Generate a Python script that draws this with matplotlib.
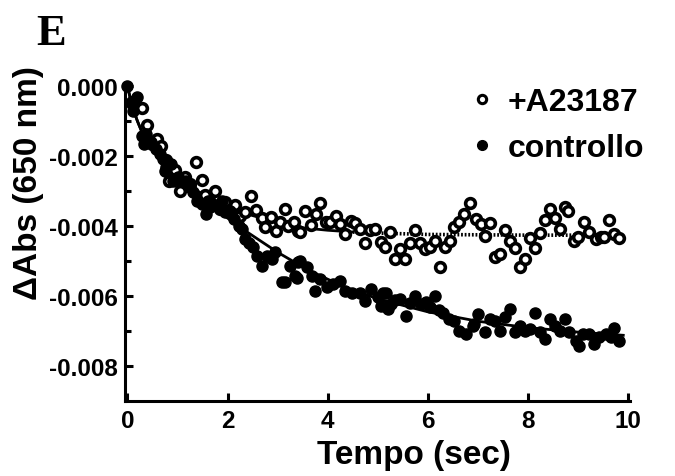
import matplotlib
matplotlib.use("Agg")
import matplotlib.pyplot as plt
from matplotlib.lines import Line2D

# +A23187 (open circles)
a23_t = [0.1, 0.2, 0.29, 0.4, 0.5, 0.6, 0.68, 0.78, 0.84, 0.95, 1.05, 1.15, 1.25, 1.36,
         1.48, 1.55, 1.65, 1.75, 1.85, 1.95, 2.05, 2.15, 2.25, 2.35, 2.46, 2.56, 2.68,
         2.75, 2.87, 2.96, 3.05, 3.15, 3.21, 3.33, 3.41, 3.45, 3.55, 3.66, 3.76, 3.84,
         3.96, 4.04, 4.16, 4.24, 4.34, 4.46, 4.54, 4.65, 4.74, 4.84, 4.95, 5.06, 5.15,
         5.24, 5.34, 5.44, 5.54, 5.64, 5.75, 5.84, 5.94, 6.04, 6.15, 6.25, 6.35, 6.45,
         6.52, 6.63, 6.73, 6.85, 6.95, 7.05, 7.14, 7.23, 7.34, 7.43, 7.53, 7.63, 7.73,
         7.83, 7.93, 8.03, 8.13, 8.24, 8.33, 8.43, 8.53, 8.63, 8.73, 8.8, 8.91, 8.99,
         9.12, 9.22, 9.36, 9.45, 9.52, 9.62, 9.72, 9.82]
a23_y = [-0.00045, -0.0006, -0.00064, -0.0011, -0.00166, -0.0015, -0.0017, -0.0021,
         -0.0027, -0.0024, -0.0030, -0.0026, -0.0028, -0.00218, -0.00269, -0.0031,
         -0.0033, -0.0030, -0.0035, -0.0033, -0.0036, -0.0034, -0.0037, -0.0036,
         -0.00313, -0.00354, -0.00377, -0.00404, -0.00373, -0.00413, -0.00389, -0.00351,
         -0.00399, -0.00389, -0.00413, -0.00416, -0.00358, -0.00397, -0.00366, -0.00335,
         -0.00387, -0.00387, -0.00372, -0.00394, -0.00423, -0.00385, -0.00392, -0.00407,
         -0.00449, -0.00411, -0.00409, -0.00445, -0.00461, -0.00416, -0.00494, -0.00466,
         -0.00494, -0.00447, -0.0041, -0.00447, -0.00466, -0.00461, -0.00442, -0.00518,
         -0.00461, -0.00442, -0.00404, -0.00389, -0.00366, -0.00334, -0.0038, -0.00394,
         -0.00428, -0.00391, -0.00489, -0.0048, -0.0041, -0.00444, -0.00463, -0.00518,
         -0.00494, -0.00435, -0.00464, -0.00421, -0.00383, -0.0035, -0.00378, -0.00407,
         -0.00347, -0.00356, -0.00442, -0.0043, -0.00388, -0.00418, -0.00437, -0.0043,
         -0.00432, -0.00383, -0.00423, -0.00435]

# controllo (filled circles)
ctl_t = [0.0, 0.09, 0.12, 0.19, 0.29, 0.34, 0.38, 0.48, 0.58, 0.65, 0.72, 0.75, 0.78,
         0.82, 0.88, 0.92, 1.02, 1.1, 1.18, 1.25, 1.31, 1.38, 1.48, 1.56, 1.6, 1.65,
         1.75, 1.82, 1.88, 1.95, 2.05, 2.12, 2.22, 2.28, 2.35, 2.42, 2.5, 2.58, 2.68,
         2.78, 2.88, 2.95, 3.08, 3.15, 3.25, 3.35, 3.38, 3.41, 3.45, 3.58, 3.68, 3.75,
         3.84, 3.98, 4.11, 4.24, 4.34, 4.48, 4.64, 4.74, 4.86, 5.01, 5.07, 5.1, 5.17,
         5.2, 5.27, 5.35, 5.44, 5.57, 5.65, 5.74, 5.87, 5.97, 6.05, 6.14, 6.22, 6.3,
         6.43, 6.53, 6.63, 6.77, 6.9, 6.93, 7.0, 7.13, 7.23, 7.33, 7.43, 7.53, 7.63,
         7.73, 7.83, 7.93, 8.03, 8.13, 8.23, 8.33, 8.43, 8.53, 8.63, 8.73, 8.82, 8.96,
         9.02, 9.09, 9.22, 9.32, 9.42, 9.56, 9.65, 9.72, 9.82]
ctl_y = [0.0, -0.00051, -0.0007, -0.00032, -0.00142, -0.00166, -0.00137, -0.00161,
         -0.0018, -0.00194, -0.00209, -0.00242, -0.0023, -0.00223, -0.00223, -0.0027,
         -0.00261, -0.0027, -0.0027, -0.00289, -0.00304, -0.00328, -0.00337, -0.00366,
         -0.00328, -0.00346, -0.0034, -0.00347, -0.00328, -0.0036, -0.00356, -0.0038,
         -0.00399, -0.00409, -0.00437, -0.00447, -0.0046, -0.00485, -0.00513, -0.00485,
         -0.00494, -0.00475, -0.00561, -0.0056, -0.00513, -0.00542, -0.00547, -0.00504,
         -0.00499, -0.00518, -0.00542, -0.00585, -0.00551, -0.00575, -0.00566, -0.00556,
         -0.00585, -0.00591, -0.0059, -0.00613, -0.0058, -0.00604, -0.00628, -0.00591,
         -0.0059, -0.00637, -0.00623, -0.0061, -0.00609, -0.00656, -0.0062, -0.00599,
         -0.00623, -0.00618, -0.0063, -0.00599, -0.0064, -0.00647, -0.00666, -0.0067,
         -0.00699, -0.00709, -0.00685, -0.0068, -0.00651, -0.00704, -0.00666, -0.0067,
         -0.00699, -0.00661, -0.00637, -0.00704, -0.00685, -0.00699, -0.00694, -0.00647,
         -0.00704, -0.00723, -0.00666, -0.00685, -0.00699, -0.00666, -0.00704, -0.00728,
         -0.00742, -0.00709, -0.00709, -0.00737, -0.00718, -0.00709, -0.00718, -0.00692,
         -0.00728]

# fitted curves
fit_ctl_t = [0, 0.1, 0.2, 0.3, 0.5, 0.7, 1.0, 1.4, 1.8, 2.4, 3.0, 3.6, 4.3, 5.0, 6.0,
             7.0, 8.0, 9.0, 9.9]
fit_ctl_y = [0.0, -0.0006, -0.0010, -0.00135, -0.0018, -0.0022, -0.0027, -0.00315,
             -0.00357, -0.00418, -0.00475, -0.00525, -0.00572, -0.00608, -0.00645,
             -0.00672, -0.0069, -0.00703, -0.00712]
fit_a23_t = [0, 0.1, 0.2, 0.3, 0.5, 0.7, 1.0, 1.4, 1.8, 2.4, 3.0, 3.5, 4.0, 4.5]
fit_a23_y = [0.0, -0.0006, -0.0010, -0.00135, -0.0018, -0.0022, -0.0026, -0.0030,
             -0.00335, -0.00366, -0.0039, -0.00405, -0.00412, -0.00417]
fit_a23_tail_t = [4.5, 5.0, 6.0, 8.0, 9.9]
fit_a23_tail_y = [-0.00417, -0.0042, -0.00424, -0.00426, -0.00426]

yticks = [0.0, -0.002, -0.004, -0.006, -0.008]
ytick_labels = ['0.000', '-0.002', '-0.004', '-0.006', '-0.008']
yminor = [-0.001, -0.003, -0.005, -0.007]
xticks = [0, 2, 4, 6, 8, 10]

plt.rcParams['font.family'] = ['Liberation Sans', 'DejaVu Sans']
plt.rcParams['font.weight'] = 'bold'

fig = plt.figure(figsize=(6.75, 4.77), dpi=100)
ax = fig.add_axes([0.185, 0.157, 0.748, 0.665])

ax.plot(fit_ctl_t, fit_ctl_y, color='black', lw=2.0, zorder=3)
ax.plot(fit_a23_t, fit_a23_y, color='black', lw=2.0, zorder=3)
ax.plot(fit_a23_tail_t, fit_a23_tail_y, color='black', lw=2.6,
        linestyle=(0, (0.5, 0.5)), zorder=3)

ax.plot(a23_t, a23_y, linestyle='none', marker='o', ms=7, mew=2.6,
        mfc='white', mec='black', zorder=4, clip_on=False)
ax.plot(ctl_t, ctl_y, linestyle='none', marker='o', ms=8,
        color='black', zorder=4, clip_on=False)

ax.set_xlim(-0.05, 10.03)
ax.set_ylim(-0.009, 0.00006)
ax.set_xticks(xticks)
ax.set_yticks(yticks)
ax.set_yticklabels(ytick_labels)
ax.set_yticks(yminor, minor=True)

for s in ['top', 'right']:
    ax.spines[s].set_visible(False)
for s in ['left', 'bottom']:
    ax.spines[s].set_linewidth(2.2)

ax.tick_params(axis='both', which='major', direction='in', length=6, width=2.2,
               labelsize=17.5)
ax.tick_params(axis='y', which='minor', direction='in', length=4, width=2.2)
ax.tick_params(axis='y', which='major', pad=5)
ax.tick_params(axis='x', which='major', pad=6)

ax.set_xlabel('Tempo (sec)', fontsize=24, fontweight='bold', labelpad=0)
ax.xaxis.set_label_coords(0.572, -0.12)
ax.set_ylabel('\u0394Abs (650 nm)', fontsize=24, fontweight='bold')
ax.yaxis.set_label_coords(-0.16, 0.69)

handles = [
    Line2D([], [], linestyle='none', marker='o', ms=6, mew=2.2, mfc='white',
           mec='black'),
    Line2D([], [], linestyle='none', marker='o', ms=7, color='black'),
]
ax.legend(handles, ['+A23187', 'controllo'], loc='upper right',
          bbox_to_anchor=(1.06, 1.04), frameon=False, fontsize=23,
          handlelength=0.6, handletextpad=0.5, labelspacing=0.5, borderpad=0)

fig.text(0.053, 0.906, 'E', fontsize=32, fontweight='bold',
         family=['Liberation Serif', 'DejaVu Serif'])

fig.savefig('out.png', dpi=100)
